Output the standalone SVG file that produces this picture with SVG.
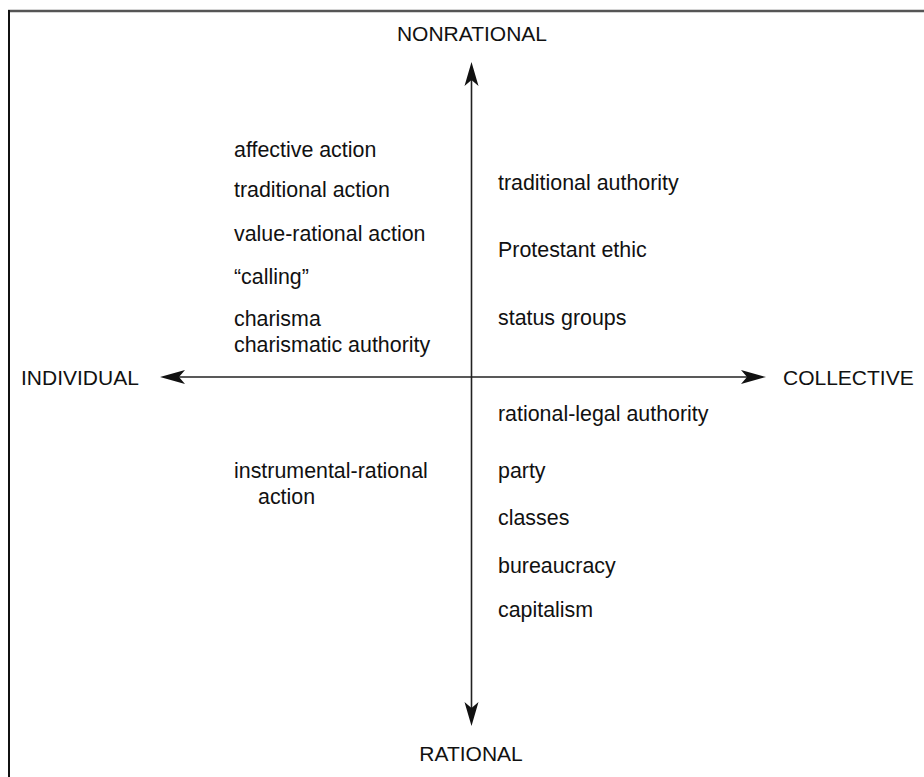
<svg xmlns="http://www.w3.org/2000/svg" width="924" height="777" viewBox="0 0 924 777">
<style>
text{font-family:"Liberation Sans",Arial,sans-serif;font-size:21px;fill:#111}
.it{font-size:21.4px}
.ax{stroke:#222;stroke-width:1.6;fill:none}
.ah{fill:#111;stroke:none}
</style>
<rect width="924" height="777" fill="#fff"/>
<g id="frame">
<line x1="8" y1="11" x2="924" y2="11" stroke="#555" stroke-width="2.5"/>
<line x1="9" y1="10" x2="9" y2="777" stroke="#111" stroke-width="2"/>
</g>
<g id="connectors">
<line class="ax" x1="471.5" y1="80" x2="471.5" y2="708"/>
<line class="ax" x1="178" y1="377" x2="748" y2="377"/>
<path class="ah" d="M471.5,62 L478.5,86 L471.5,80 L464.5,86 Z"/>
<path class="ah" d="M471.5,726 L478.5,702 L471.5,708 L464.5,702 Z"/>
<path class="ah" d="M160,377 L185,370 L179,377 L185,384 Z"/>
<path class="ah" d="M766,377 L741,370 L747,377 L741,384 Z"/>
</g>
<g id="axis-labels">
<text id="nonrational" x="472" y="41" text-anchor="middle">NONRATIONAL</text>
<text id="rational" x="471" y="761" text-anchor="middle">RATIONAL</text>
<text id="individual" x="21" y="385">INDIVIDUAL</text>
<text id="collective" x="783" y="385">COLLECTIVE</text>
</g>
<g id="left-items" class="it">
<text class="it" x="234" y="157">affective action</text>
<text class="it" x="234" y="197">traditional action</text>
<text class="it" x="234" y="241">value-rational action</text>
<text class="it" x="234" y="284">“calling”</text>
<text class="it" x="234" y="326">charisma</text>
<text class="it" x="234" y="352">charismatic authority</text>
<text class="it" x="234" y="478">instrumental-rational</text>
<text class="it" x="258" y="504">action</text>
</g>
<g id="right-items">
<text class="it" x="498" y="190">traditional authority</text>
<text class="it" x="498" y="257">Protestant ethic</text>
<text class="it" x="498" y="325">status groups</text>
<text class="it" x="498" y="421">rational-legal authority</text>
<text class="it" x="498" y="478">party</text>
<text class="it" x="498" y="525">classes</text>
<text class="it" x="498" y="573">bureaucracy</text>
<text class="it" x="498" y="617">capitalism</text>
</g>
</svg>
